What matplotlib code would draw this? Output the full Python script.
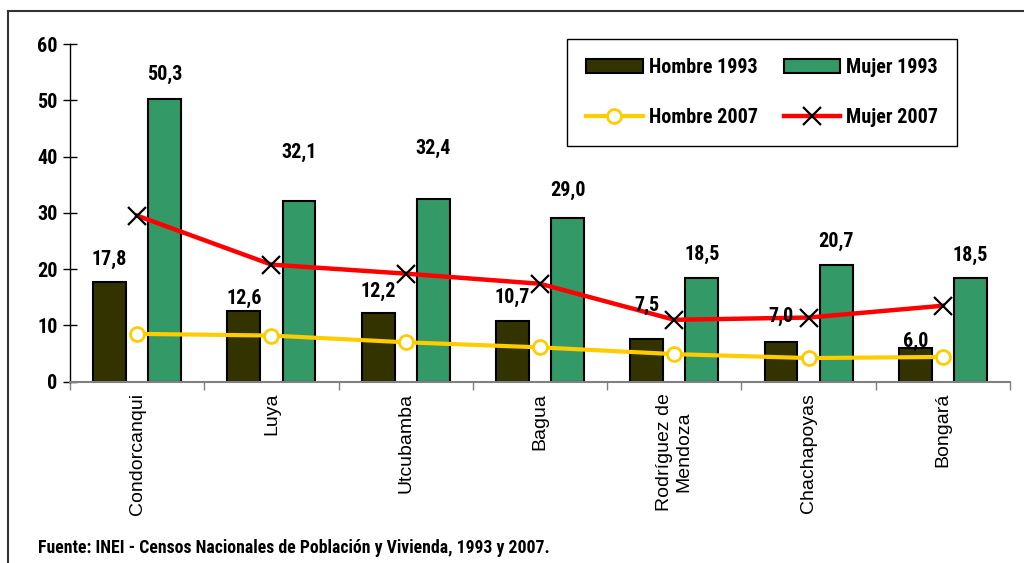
import numpy as np
import matplotlib
matplotlib.use('Agg')
from matplotlib import pyplot as plt
from matplotlib import font_manager as fm
from matplotlib.lines import Line2D

# Data
provincias = ['Condorcanqui', 'Luya', 'Utcubamba', 'Bagua',
              'Rodríguez de\nMendoza', 'Chachapoyas', 'Bongará']
hombre_1993 = [17.8, 12.6, 12.2, 10.7, 7.5, 7.0, 6.0]
mujer_1993 = [50.3, 32.1, 32.4, 29.0, 18.5, 20.7, 18.5]
hombre_2007 = [8.5, 8.2, 7.0, 6.1, 4.9, 4.2, 4.4]
mujer_2007 = [29.5, 20.8, 19.2, 17.4, 11.0, 11.4, 13.5]
y_ticks = [0, 10, 20, 30, 40, 50, 60]

# label offsets above bar tops (pixels), as placed in the original
off_h = [22, 12, 22, 24, 34, 26, 7]
off_m = [24, 49, 51, 28, 23, 24, 22]


def pick_narrow_font():
    # look for an Arial Narrow-like face among the installed fonts
    condensed = ('condensed', 'semi-condensed', 'extra-condensed', 'ultra-condensed')
    fonts = fm.fontManager.ttflist
    for name in ['Liberation Sans Narrow', 'Roboto Condensed', 'Open Sans Condensed',
                 'Roboto', 'Open Sans', 'Noto Sans', 'DejaVu Sans']:
        for f in fonts:
            if f.name == name and ('Narrow' in name or 'Condensed' in name or f.stretch in condensed):
                st = f.stretch if f.stretch in condensed else 'normal'
                return name, st, True
    return 'Liberation Sans', 'normal', False


narrow_name, narrow_stretch, found = pick_narrow_font()
narrow = [narrow_name, 'DejaVu Sans']
size_scale = 1.0 if found else 0.88

plt.rcParams['font.family'] = narrow


def nfont(size, weight='bold'):
    return fm.FontProperties(family=narrow, stretch=narrow_stretch, weight=weight,
                             size=size * size_scale)


fig = plt.figure(figsize=(10.24, 5.63), dpi=100)
ax = fig.add_axes([70 / 1024, 1 - 381.7 / 563, 940 / 1024, (381.7 - 44) / 563])

x = np.arange(len(provincias))
w = 0.245
b1 = ax.bar(x - 0.205, hombre_1993, w, color='#333300', edgecolor='black', linewidth=1.5,
            label='Hombre 1993', zorder=2)
b2 = ax.bar(x + 0.205, mujer_1993, w, color='#339966', edgecolor='black', linewidth=1.5,
            label='Mujer 1993', zorder=2)
l1, = ax.plot(x, hombre_2007, color='#FFCC00', lw=3, marker='o', markersize=10,
              markerfacecolor='white', markeredgecolor='#FFCC00', markeredgewidth=2,
              label='Hombre 2007', zorder=3)
l2, = ax.plot(x, mujer_2007, color='#FF0000', lw=3.2, marker='x', markersize=13,
              markeredgecolor='black', markeredgewidth=1.6, label='Mujer 2007', zorder=3)

for xi, v, o in zip(x, hombre_1993, off_h):
    ax.annotate(f'{v:.1f}'.replace('.', ','), (xi - 0.205, v), xytext=(0, o),
                textcoords='offset pixels', ha='center', va='center',
                fontproperties=nfont(14.5), zorder=4)
for xi, v, o in zip(x, mujer_1993, off_m):
    ax.annotate(f'{v:.1f}'.replace('.', ','), (xi + 0.205, v), xytext=(0, o),
                textcoords='offset pixels', ha='center', va='center',
                fontproperties=nfont(14.5), zorder=4)

ax.set_xlim(-0.5, len(provincias) - 0.5)
ax.set_ylim(0, 60)
ax.set_yticks(y_ticks)
ax.set_yticklabels([str(t) for t in y_ticks], fontproperties=nfont(14.5))
ax.tick_params(axis='y', direction='inout', length=10, width=1, pad=4)

ax.set_xticks(x)
ax.set_xticklabels(provincias, rotation=90, fontsize=14, va='top', ha='center',
                   family=['Liberation Sans', 'DejaVu Sans'], linespacing=1.15)
ax.tick_params(axis='x', length=0, pad=8)
ax.set_xticks(np.arange(-0.5, len(provincias)), minor=True)
ax.tick_params(axis='x', which='minor', length=6, width=1, color='#808080', direction='out')

for s in ['top', 'right']:
    ax.spines[s].set_visible(False)
ax.spines['left'].set_color('black')
ax.spines['left'].set_linewidth(1)
ax.spines['bottom'].set_color('#808080')
ax.spines['bottom'].set_linewidth(1.5)

leg = fig.legend(handles=[b1, l1, b2, l2], ncol=2, loc='upper left',
                 bbox_to_anchor=(567 / 1024, 1 - 39 / 563), borderaxespad=0,
                 prop=nfont(14.5), frameon=True, fancybox=False, edgecolor='black',
                 framealpha=1, handlelength=2.8, handleheight=0.7, handletextpad=0.3,
                 labelspacing=1.55, columnspacing=1.3, borderpad=0.95)
leg.get_frame().set_linewidth(1)

fig.text(38 / 1024, 1 - 548 / 563,
         'Fuente: INEI - Censos Nacionales de Población y Vivienda, 1993 y 2007.',
         fontproperties=nfont(12.8), va='center', ha='left')

# outer frame
fig.add_artist(Line2D([8 / 1024, 1], [1 - 11 / 563] * 2, transform=fig.transFigure,
                      color='#333333', lw=1.5))
fig.add_artist(Line2D([8 / 1024] * 2, [0, 1 - 11 / 563], transform=fig.transFigure,
                      color='#333333', lw=1.5))

fig.savefig('out.png', dpi=100)
